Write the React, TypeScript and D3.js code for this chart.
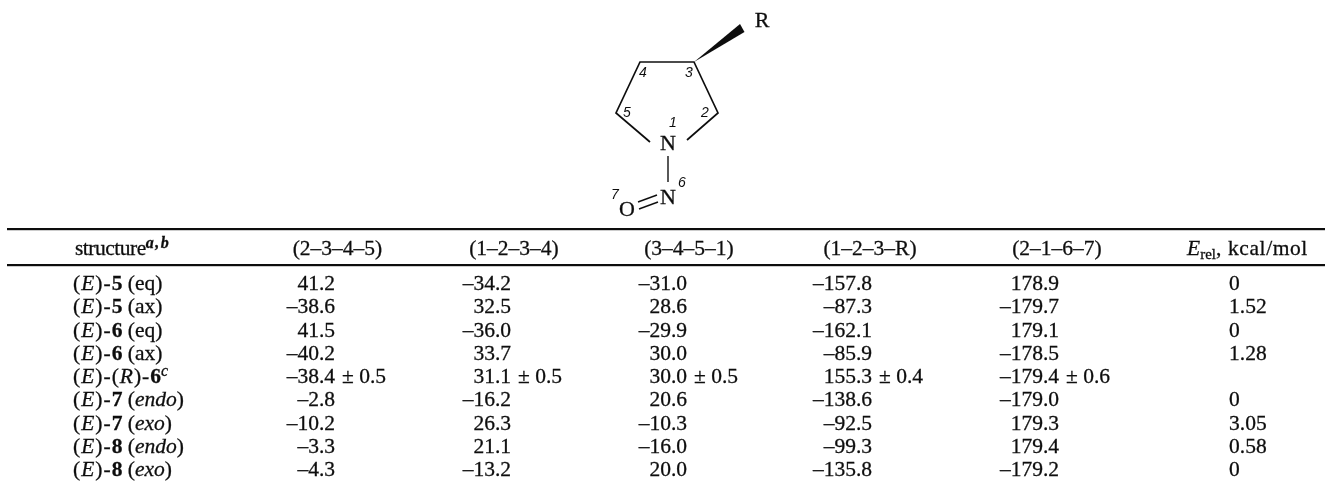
import React from 'react';
import * as d3 from 'd3';

const width = 1325;
const height = 481;

// table values
const rows = ['5eq', '5ax', '6eq', '6ax', '6R', '7endo', '7exo', '8endo', '8exo'];
const torsion2345 = [41.2, -38.6, 41.5, -40.2, -38.4, -2.8, -10.2, -3.3, -4.3];
const torsion1234 = [-34.2, 32.5, -36.0, 33.7, 31.1, -16.2, 26.3, 21.1, -13.2];
const torsion3451 = [-31.0, 28.6, -29.9, 30.0, 30.0, 20.6, -10.3, -16.0, 20.0];
const torsion123R = [-157.8, -87.3, -162.1, -85.9, 155.3, -138.6, -92.5, -99.3, -135.8];
const torsion2167 = [178.9, -179.7, 179.1, -178.5, -179.4, -179.0, 179.3, 179.4, -179.2];
const energies = ['0', '1.52', '0', '1.28', '', '0', '3.05', '0.58', '0'];
const errorRow = '6R';
const errors = [0.5, 0.5, 0.5, 0.4, 0.6];
const headers = ['(2–3–4–5)', '(1–2–3–4)', '(3–4–5–1)', '(1–2–3–R)', '(2–1–6–7)'];

const numberCols = [torsion2345, torsion1234, torsion3451, torsion123R, torsion2167];

type Seg = { t: string; i?: boolean; b?: boolean; sup?: boolean; sub?: boolean; ls?: number };
const lbl = (num: string, tail: Seg[]): Seg[] => [
  { t: '(', ls: 1 }, { t: 'E', i: true, ls: 1 }, { t: ')-', ls: 1 }, { t: num, b: true }, { t: ' ' }, ...tail,
];
const structures: Seg[][] = [
  lbl('5', [{ t: '(eq)' }]),
  lbl('5', [{ t: '(ax)' }]),
  lbl('6', [{ t: '(eq)' }]),
  lbl('6', [{ t: '(ax)' }]),
  [{ t: '(', ls: 1 }, { t: 'E', i: true, ls: 1 }, { t: ')-(', ls: 1 }, { t: 'R', i: true, ls: 1 }, { t: ')-', ls: 1 }, { t: '6', b: true }, { t: 'c', i: true, sup: true }],
  lbl('7', [{ t: '(' }, { t: 'endo', i: true }, { t: ')' }]),
  lbl('7', [{ t: '(' }, { t: 'exo', i: true }, { t: ')' }]),
  lbl('8', [{ t: '(' }, { t: 'endo', i: true }, { t: ')' }]),
  lbl('8', [{ t: '(' }, { t: 'exo', i: true }, { t: ')' }]),
];

const fmt = d3.format('.1f');
const dash = (v: number) => fmt(v).replace(/[−-]/, '–');

const y = d3.scalePoint<string>().domain(rows).range([290, 476]);
const colRight = d3.scaleOrdinal<number, number>().domain([0, 1, 2, 3, 4]).range([335, 511, 687, 872, 1059]);
const colHead = d3.scaleOrdinal<number, number>().domain([0, 1, 2, 3, 4]).range([337.5, 514, 689, 870, 1057]);

const FONT = '"Liberation Serif", serif';
const HAND = '"Liberation Sans", sans-serif';

function Segs({ segs }: { segs: Seg[] }) {
  // shift back to the baseline after a raised or lowered piece
  let shift = 0;
  return (
    <>
      {segs.map((s, i) => {
        const target = s.sup ? -7 : s.sub ? 4 : 0;
        const dy = target - shift;
        shift = target;
        return (
          <tspan key={i} dy={dy} fontStyle={s.i ? 'italic' : undefined} fontWeight={s.b ? 'bold' : undefined}
            letterSpacing={s.ls} fontSize={s.sup ? 16 : s.sub ? 15 : undefined}>{s.t}</tspan>
        );
      })}
    </>
  );
}

function Molecule() {
  const line = d3.line();
  const ring: [number, number][] = [[650, 142], [616, 113], [640, 62], [694, 62], [718, 113], [687, 140]];
  const wedge: [number, number][] = [[694, 62], [740, 24], [744.5, 32]];
  const bonds: [number, number][][] = [
    [[668, 156], [668, 182]],
    [[638, 202], [657, 195]],
    [[639, 209], [658, 202]],
  ];
  const digits: [string, number, number][] = [
    ['4', 643, 77], ['3', 689, 77], ['5', 627, 117], ['2', 705, 117],
    ['1', 673, 127], ['6', 682, 187], ['7', 615, 199],
  ];
  return (
    <g>
      <path d={line(ring) ?? ''} fill="none" stroke="#111" strokeWidth={1.7} />
      <path d={(line(wedge) ?? '') + 'Z'} fill="#111" />
      {bonds.map((b, i) => <path key={i} d={line(b) ?? ''} fill="none" stroke="#111" strokeWidth={1.4} />)}
      <g fontFamily={FONT} fontSize={22} fill="#111" textAnchor="middle" stroke="#111" strokeWidth={0.3}>
        <text x={762} y={27}>R</text>
        <text x={668} y={150}>N</text>
        <text x={668} y={204}>N</text>
        <text x={627} y={216}>O</text>
      </g>
      <g fontFamily={HAND} fontSize={14} fontStyle="italic" fill="#111" textAnchor="middle">
        {digits.map(([d, dx, dy]) => <text key={d} x={dx} y={dy}>{d}</text>)}
      </g>
    </g>
  );
}

export default function App() {
  return (
    <svg width={width} height={height} style={{ position: 'absolute', left: 0, top: 0, display: 'block', background: '#fff' }}>
      <defs>
        <filter id="scan" x="0" y="0" width="100%" height="100%">
          <feGaussianBlur stdDeviation="0.35" />
        </filter>
      </defs>
      <g filter="url(#scan)">
        <Molecule />
        <rect x={7} y={228} width={1318} height={2.2} fill="#111" />
        <rect x={7} y={264} width={1318} height={2.2} fill="#111" />

        <g fontFamily={FONT} fontSize={21.5} fill="#111" stroke="#111" strokeWidth={0.3}>
          <text x={75} y={255}>
            <Segs segs={[{ t: 'structure', ls: -0.5 }, { t: 'a,b', i: true, sup: true, b: true, ls: 1.5 }]} />
          </text>
          {headers.map((h, i) => (
            <text key={h} x={colHead(i)} y={255} textAnchor="middle">{h}</text>
          ))}
          <text x={1187} y={255}>
            <Segs segs={[{ t: 'E', i: true }, { t: 'rel', sub: true }, { t: ', kcal/mol', ls: 0.6 }]} />
          </text>

          {rows.map((r, ri) => (
            <g key={r}>
              <text x={73} y={y(r)}><Segs segs={structures[ri]} /></text>
              {numberCols.map((col, ci) => (
                <text key={ci} x={colRight(ci)} y={y(r)} textAnchor="end">{dash(col[ri])}</text>
              ))}
              {r === errorRow && errors.map((e, ci) => (
                <text key={ci} x={colRight(ci) + 7} y={y(r)}>{`± ${fmt(e)}`}</text>
              ))}
              <text x={1229} y={y(r)}>{energies[ri]}</text>
            </g>
          ))}
        </g>
      </g>
    </svg>
  );
}
